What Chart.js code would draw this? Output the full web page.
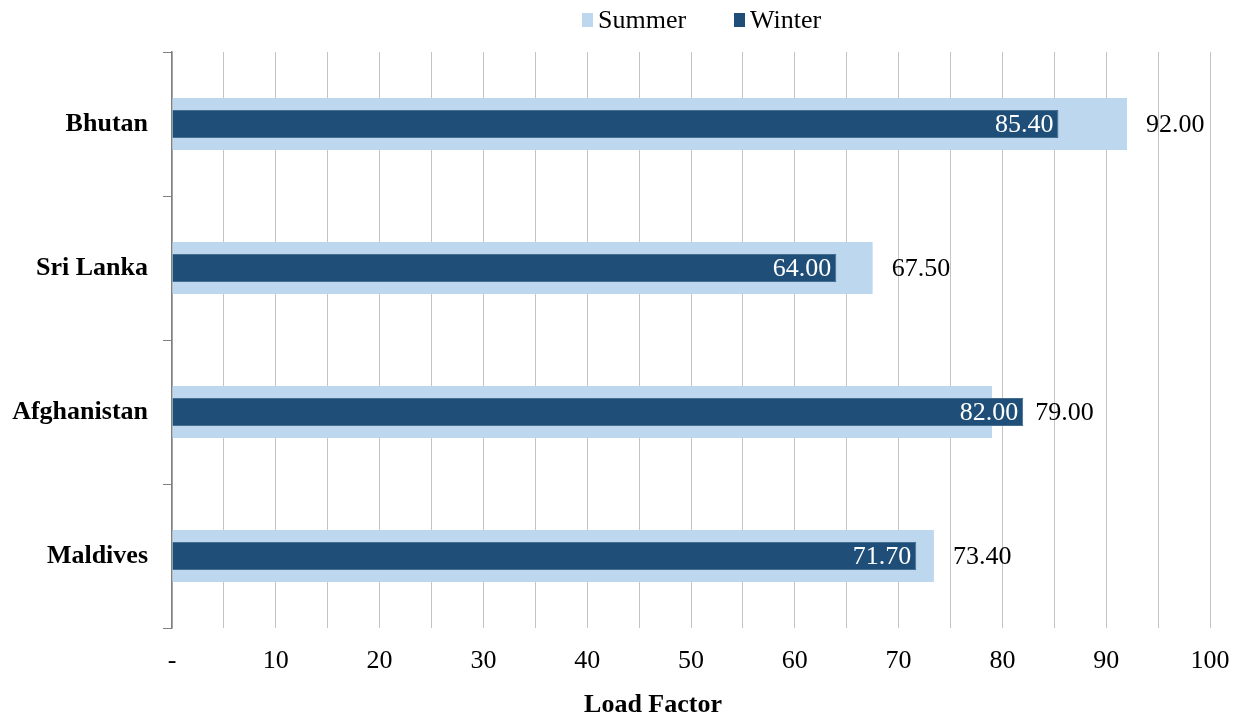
<!DOCTYPE html>
<html>
<head>
<meta charset="utf-8">
<script src="https://cdn.jsdelivr.net/npm/chart.js@4/dist/chart.umd.min.js"></script>
<style>
  html, body { margin: 0; padding: 0; background: #ffffff; }
  #wrap { width: 1242px; height: 718px; }
</style>
</head>
<body>
<div id="wrap"><canvas id="chart" width="1242" height="718"></canvas></div>
<script>
const countries = ['Bhutan', 'Sri Lanka', 'Afghanistan', 'Maldives'];
const summerLoad = [92.00, 67.50, 79.00, 73.40];
const winterLoad = [85.40, 64.00, 82.00, 71.70];
const seriesNames = ['Summer', 'Winter'];
const seriesColors = ['#bdd7ee', '#1f4e79'];
const axisTitle = 'Load Factor';

const FONT = "'Liberation Serif', 'Times New Roman', serif";

// Value labels: winter inside the bar end, summer just past the longer bar
const valueLabels = {
  id: 'valueLabels',
  afterDatasetsDraw(chart) {
    const ctx = chart.ctx;
    const sMeta = chart.getDatasetMeta(0);
    const wMeta = chart.getDatasetMeta(1);
    ctx.save();
    ctx.font = '26px ' + FONT;
    ctx.textBaseline = 'middle';
    countries.forEach((c, i) => {
      const sBar = sMeta.data[i];
      const wBar = wMeta.data[i];
      ctx.fillStyle = '#ffffff';
      ctx.textAlign = 'right';
      ctx.fillText(winterLoad[i].toFixed(2), wBar.x - 5, wBar.y + 1);
      ctx.fillStyle = '#000000';
      ctx.textAlign = 'left';
      const x = Math.max(sBar.x + 19, wBar.x + 12);
      ctx.fillText(summerLoad[i].toFixed(2), x, sBar.y + 1);
    });
    ctx.restore();
  }
};

// Legend row above the plot and the axis title below the tick labels
const legendAndTitle = {
  id: 'legendAndTitle',
  afterDraw(chart) {
    const ctx = chart.ctx;
    ctx.save();
    ctx.font = '26px ' + FONT;
    ctx.textBaseline = 'middle';
    ctx.textAlign = 'left';
    const starts = [582, 734];
    seriesNames.forEach((name, i) => {
      ctx.fillStyle = seriesColors[i];
      ctx.fillRect(starts[i], 13, 11, 14);
      ctx.fillStyle = '#000000';
      ctx.fillText(name, starts[i] + 16, 21);
    });
    ctx.font = 'bold 26px ' + FONT;
    ctx.textAlign = 'center';
    ctx.fillText(axisTitle, 653, 705);
    ctx.restore();
  }
};

new Chart(document.getElementById('chart'), {
  type: 'bar',
  data: {
    labels: countries,
    datasets: [
      {
        label: seriesNames[0],
        data: summerLoad,
        backgroundColor: seriesColors[0],
        borderWidth: 0,
        barPercentage: 0.362,
        categoryPercentage: 1,
        grouped: false,
        order: 1
      },
      {
        label: seriesNames[1],
        data: winterLoad,
        backgroundColor: seriesColors[1],
        borderColor: '#456d94',
        borderWidth: 1,
        borderSkipped: 'start',
        barPercentage: 0.196,
        categoryPercentage: 1,
        grouped: false,
        order: 0
      }
    ]
  },
  options: {
    indexAxis: 'y',
    responsive: false,
    animation: false,
    devicePixelRatio: 1,
    layout: { padding: { left: 0, right: 32, top: 52, bottom: 0 } },
    plugins: {
      legend: { display: false },
      tooltip: { enabled: false }
    },
    scales: {
      x: {
        type: 'linear',
        min: 0,
        max: 100,
        afterFit(scale) {
          scale.height = 90;
          scale.paddingLeft = 0;
          scale.paddingRight = 0;
        },
        grid: { color: '#c4c4c4', lineWidth: 1, drawTicks: false },
        border: { display: false },
        ticks: {
          stepSize: 5,
          autoSkip: false,
          maxRotation: 0,
          padding: 18,
          color: '#000000',
          font: { family: FONT, size: 26 },
          callback: (v) => v === 0 ? '-' : (v % 10 === 0 ? String(v) : '')
        }
      },
      y: {
        type: 'category',
        offset: true,
        afterFit(scale) { scale.width = 172; },
        grid: { offset: true, drawOnChartArea: false, drawTicks: true, tickLength: 9, color: '#808080', lineWidth: 1 },
        border: { display: true, color: '#808080', width: 1.5 },
        ticks: {
          padding: 15,
          color: '#000000',
          font: { family: FONT, size: 26, weight: 'bold' }
        }
      }
    }
  },
  plugins: [valueLabels, legendAndTitle]
});
</script>
</body>
</html>
